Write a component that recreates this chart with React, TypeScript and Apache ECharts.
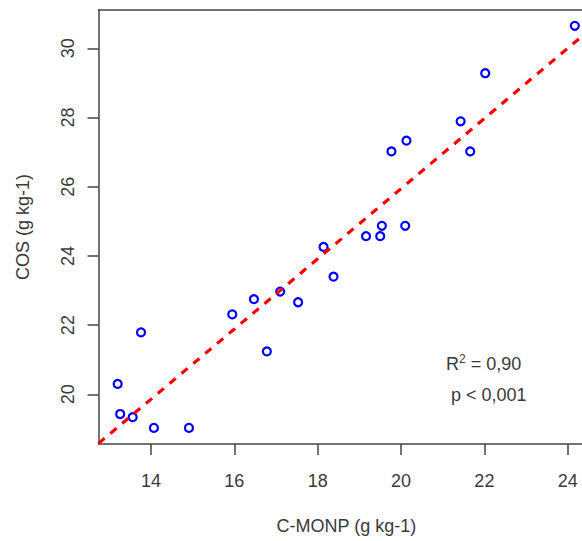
import React, { useEffect, useRef } from "react";
import * as echarts from "echarts";

const xValues = [24.17, 22.02, 21.43, 20.13, 19.77, 21.66, 19.54, 20.10, 19.16, 19.50, 18.14, 18.38, 17.53, 17.10, 16.47, 15.95, 16.78, 13.76, 13.20, 13.26, 13.56, 14.07, 14.91];
const yValues = [30.65, 29.28, 27.89, 27.33, 27.02, 27.02, 24.87, 24.87, 24.57, 24.57, 24.26, 23.40, 22.66, 22.97, 22.75, 22.31, 21.24, 21.79, 20.30, 19.43, 19.34, 19.03, 19.03];
const fitLine = [
  [12.74, 18.58],
  [24.64, 30.65],
];
const xTicks = [14, 16, 18, 20, 22, 24];
const yTicks = [20, 22, 24, 26, 28, 30];
const xRange = [12.74, 24.64];
const yRange = [18.564, 31.107];
const annotR = "0,90";
const annotP = "p < 0,001";

const FONT = "'Liberation Sans', Arial, sans-serif";
const TXT = "#3a3a3a";
const AX = "#444";

export default function App() {
  const ref = useRef<HTMLDivElement>(null);
  useEffect(() => {
    if (!ref.current) return;
    const chart = echarts.init(ref.current, undefined, { renderer: "svg" });
    chart.setOption({
      animation: false,
      backgroundColor: "#fff",
      textStyle: { fontFamily: FONT },
      grid: { left: 98.5, top: 10, right: 25.6, bottom: 97 },
      xAxis: [
        {
          type: "value",
          min: xRange[0],
          max: xRange[1],
          position: "bottom",
          name: "C-MONP (g kg-1)",
          nameLocation: "middle",
          nameGap: 73,
          nameTextStyle: { fontSize: 18, color: TXT, fontFamily: FONT },
          axisLine: { show: true, onZero: false, lineStyle: { color: AX, width: 1.5 } },
          axisTick: { show: true, length: 11, lineStyle: { color: AX, width: 1.5 }, customValues: xTicks },
          axisLabel: { fontSize: 18, color: TXT, margin: 28, fontFamily: FONT, customValues: xTicks },
          splitLine: { show: false },
        },
        {
          type: "value",
          min: xRange[0],
          max: xRange[1],
          position: "top",
          axisLine: { show: true, onZero: false, lineStyle: { color: AX, width: 1.5 } },
          axisTick: { show: false },
          axisLabel: { show: false },
          splitLine: { show: false },
        },
      ],
      yAxis: {
        type: "value",
        min: yRange[0],
        max: yRange[1],
        name: "COS (g kg-1)",
        nameLocation: "middle",
        nameGap: 67,
        nameTextStyle: { fontSize: 18, color: TXT, fontFamily: FONT },
        axisLine: { show: true, onZero: false, lineStyle: { color: AX, width: 1.5 } },
        axisTick: { show: true, length: 11, lineStyle: { color: AX, width: 1.5 }, customValues: yTicks },
        axisLabel: { fontSize: 18, color: TXT, margin: 22, rotate: 90, fontFamily: FONT, customValues: yTicks },
        splitLine: { show: false },
      },
      series: [
        {
          type: "scatter",
          data: xValues.map((x, i) => [x, yValues[i]]),
          symbol: "circle",
          symbolSize: 8,
          itemStyle: { color: "#fff", borderColor: "#0000ff", borderWidth: 2.2, opacity: 1 },
          z: 2,
        },
        {
          type: "line",
          data: fitLine,
          showSymbol: false,
          symbol: "none",
          clip: true,
          lineStyle: { color: "#ff0000", width: 3.2, type: [8, 7.5] },
          z: 3,
        },
      ],
      graphic: [
        {
          type: "text",
          left: 446,
          top: 353,
          style: {
            text: "{r|R}{s|2}{r| = " + annotR + "}",
            rich: {
              r: { fontSize: 18, fill: TXT, fontFamily: FONT, verticalAlign: "bottom" },
              s: { fontSize: 12, fill: TXT, fontFamily: FONT, verticalAlign: "top", padding: [0, 0, 8, 0] },
            },
          },
        },
        {
          type: "text",
          left: 451,
          top: 386,
          style: { text: annotP, fontSize: 18, fill: TXT, fontFamily: FONT },
        },
      ],
    });
    return () => chart.dispose();
  }, []);
  return (
    <div style={{ position: "fixed", left: 0, top: 0, width: 582, height: 541, overflow: "hidden", background: "#fff" }}>
      <div ref={ref} style={{ width: 620, height: 541 }} />
    </div>
  );
}
